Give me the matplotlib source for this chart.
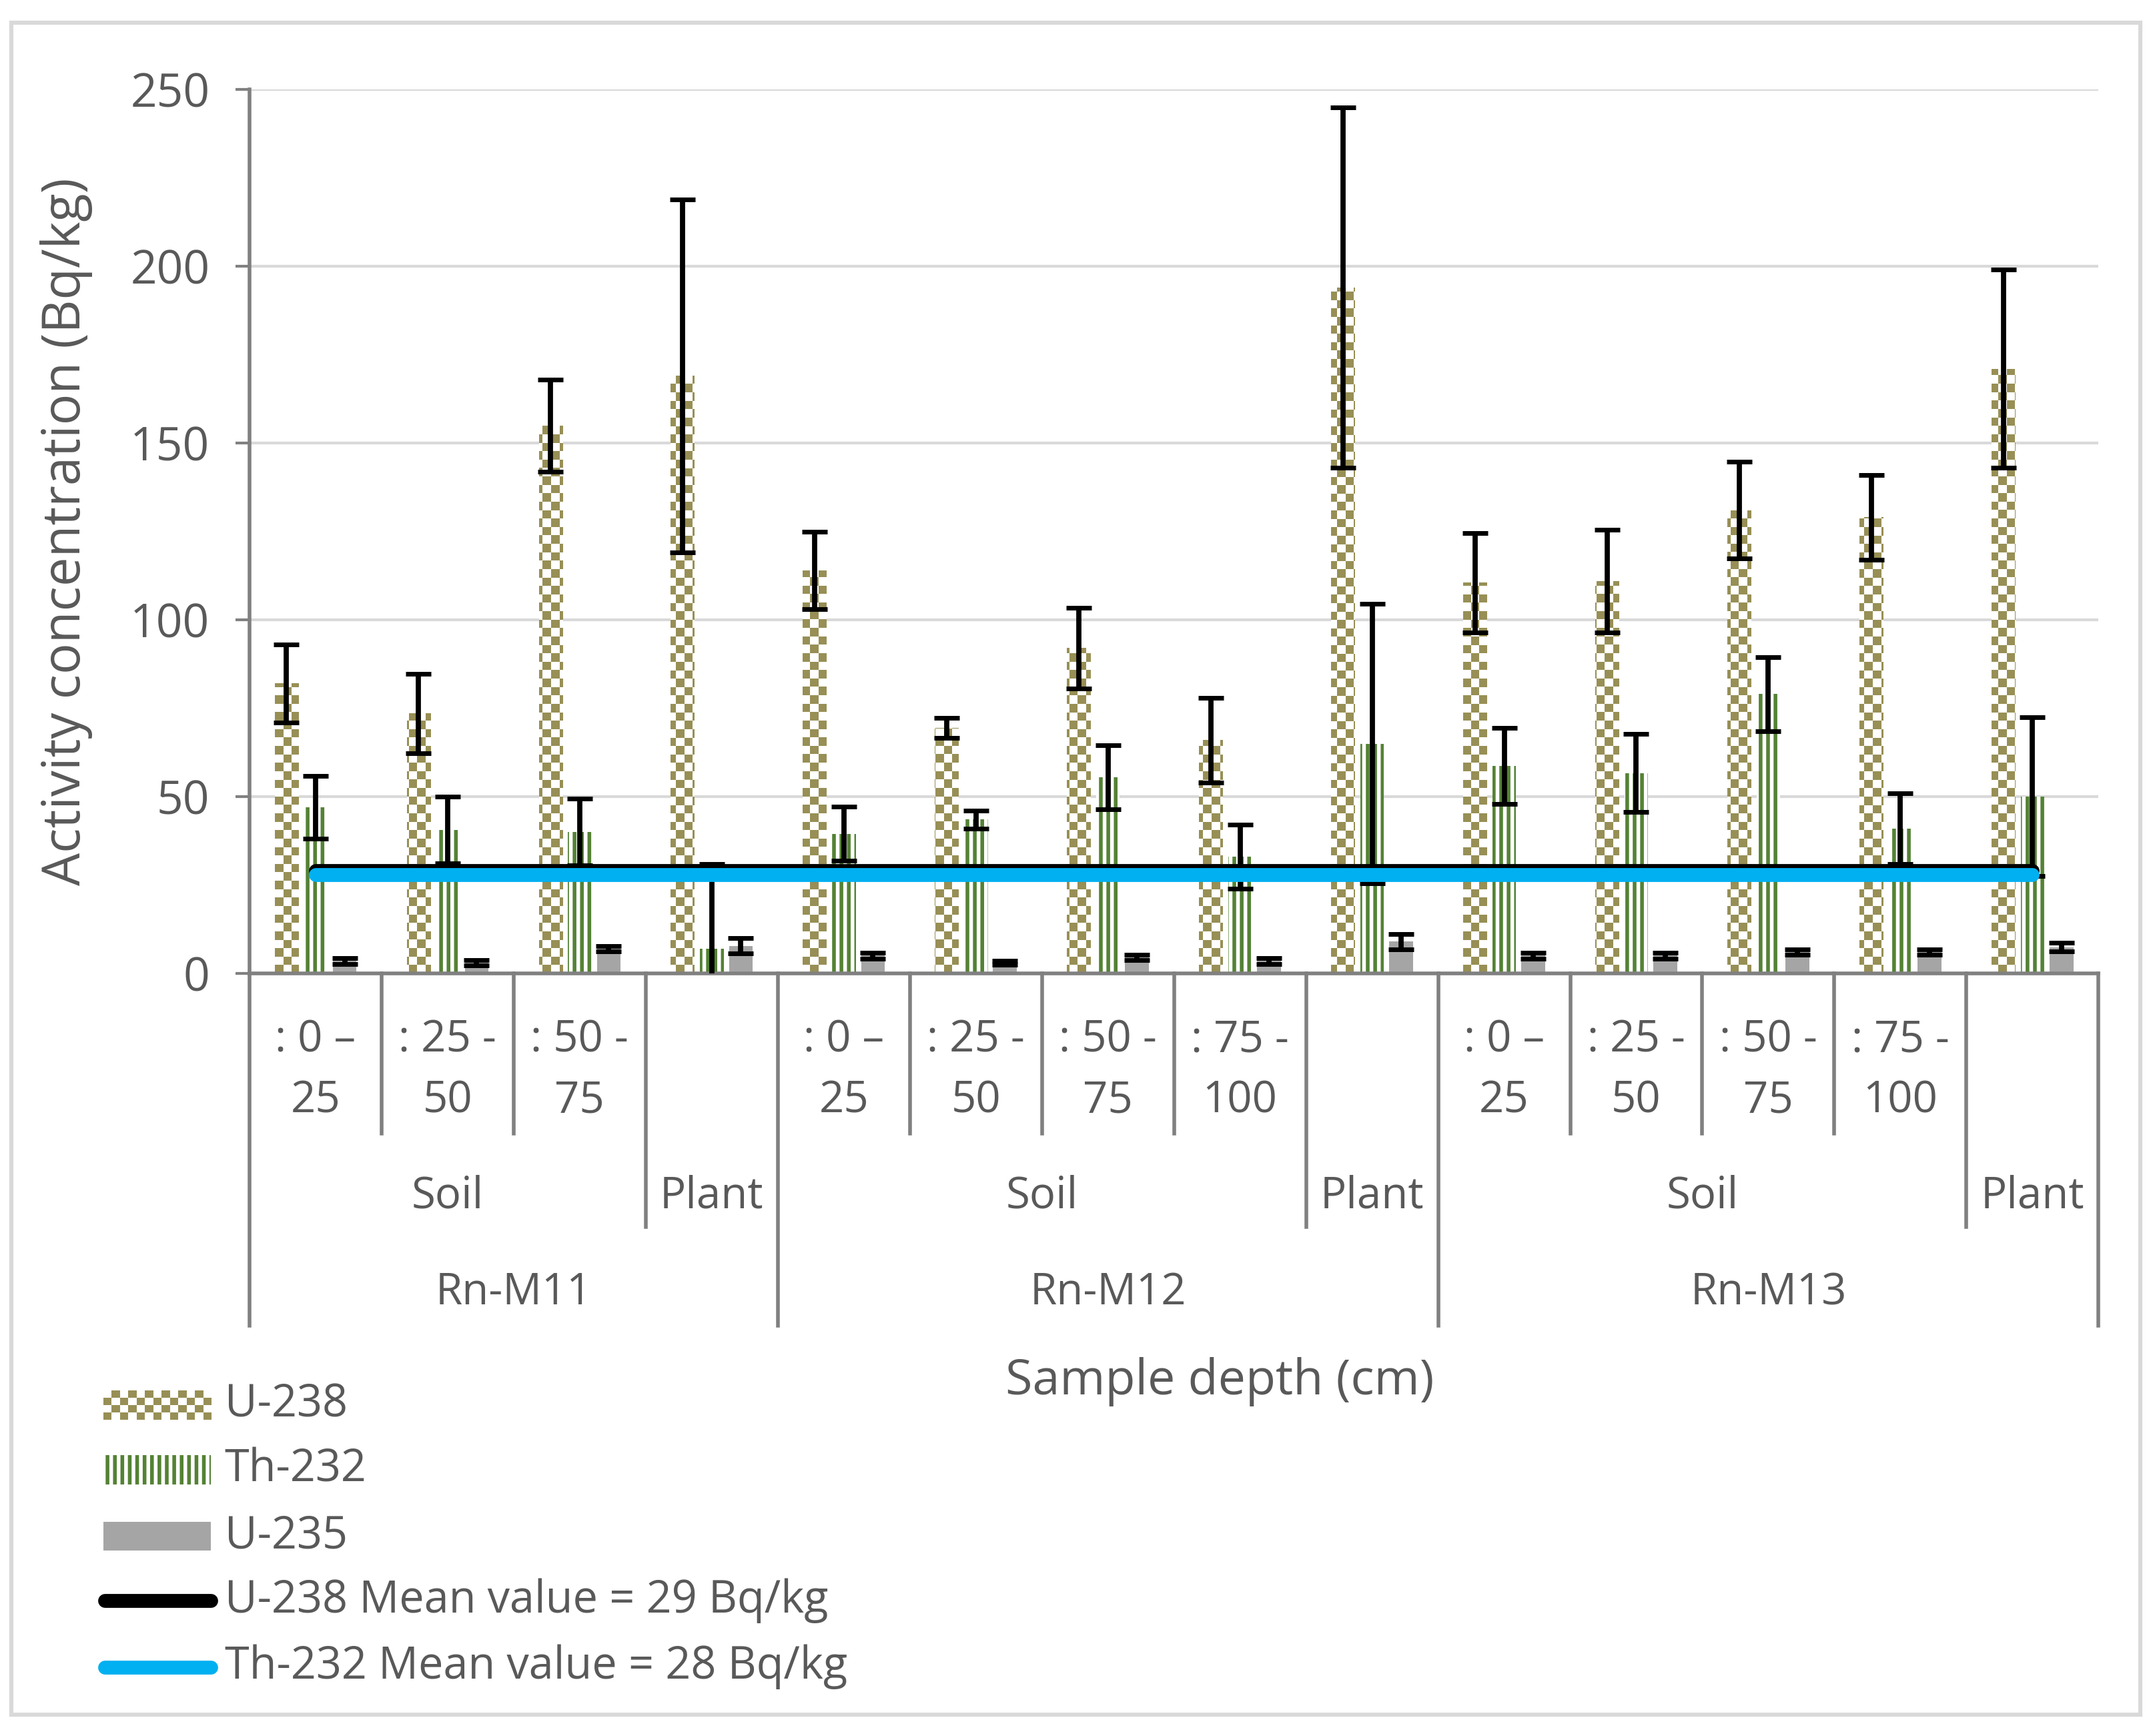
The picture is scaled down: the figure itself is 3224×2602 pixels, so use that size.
import numpy as np
import matplotlib.pyplot as plt
from matplotlib.colors import ListedColormap
from matplotlib.patches import Rectangle
from matplotlib.lines import Line2D
import matplotlib.transforms as mtransforms

plt.rcParams['font.family'] = ['Open Sans', 'DejaVu Sans']
plt.rcParams['hatch.linewidth'] = 2.0

# categories (three-level x axis)
sites = ["Rn-M11"] * 4 + ["Rn-M12"] * 5 + ["Rn-M13"] * 5
kinds = (["Soil"] * 3 + ["Plant"] + ["Soil"] * 4 + ["Plant"]
         + ["Soil"] * 4 + ["Plant"])
depths = [": 0 –\n25", ": 25 -\n50", ": 50 -\n75", "",
          ": 0 –\n25", ": 25 -\n50", ": 50 -\n75", ": 75 -\n100", "",
          ": 0 –\n25", ": 25 -\n50", ": 50 -\n75", ": 75 -\n100", ""]

# activity concentrations (Bq/kg) and errors
u238 = [82, 73.5, 155, 169, 114, 69.5, 92, 66, 194, 110.5, 111, 131, 129, 171]
u238_err = [11, 11.3, 13, 50, 11, 2.8, 11.5, 12, 51, 14, 14.5, 13.7, 12, 28]
th232 = [47, 40.6, 40, 7, 39.5, 43.5, 55.5, 33, 65, 58.7, 56.7, 79, 41, 50]
th232_err = [8.8, 9.4, 9.5, 24, 7.6, 2.5, 9, 9, 39.5, 10.7, 11, 10.5, 10, 22.5]
u235 = [3.5, 3, 7, 7.8, 5, 3, 4.5, 3.5, 9, 5, 5, 6, 6, 7.4]
u235_err = [0.8, 0.7, 0.8, 2.2, 0.8, 0.5, 0.8, 0.8, 2.2, 0.8, 0.8, 0.8, 0.8, 1.2]

u238_mean = 29
th232_mean = 28

OLIVE = "#978F55"
GREEN = "#548235"
GRAY = "#A5A5A5"
BLUE = "#00B0F0"
TXT = "#595959"
AXC = "#808080"

fig = plt.figure(figsize=(16.12, 13.01), dpi=200)
ax = fig.add_axes([0.116, 0.4393, 0.8596, 0.5091])

n = len(u238)
x = np.arange(n)
w = 0.18
off = 0.22

ax.set_xlim(-0.5, n - 0.5)
ax.set_ylim(0, 250)

# U-238 bars: checkerboard texture clipped to each bar
bars_u = ax.bar(x - off, u238, w, color="none", edgecolor="none", zorder=2)
ax_w_px = 0.8596 * 16.12 * 200
ax_h_px = 0.5091 * 13.01 * 200
cell = 12.5
nx, ny = int(ax_w_px / cell), int(ax_h_px / cell)
ii, jj = np.indices((ny, nx))
checker = (ii + jj) % 2
cmap = ListedColormap(["white", OLIVE])
for b in bars_u:
    im = ax.imshow(checker, cmap=cmap, extent=[-0.5, n - 0.5, 0, 250],
                   aspect="auto", interpolation="nearest", zorder=2,
                   origin="lower")
    im.set_clip_path(b)

ax.bar(x, th232, w, color="white", edgecolor=GREEN, hatch="|||",
       linewidth=0, zorder=2)
ax.bar(x + off, u235, w, color=GRAY, edgecolor="none", zorder=2)

ekw = dict(fmt="none", ecolor="black", elinewidth=2.8, capsize=7,
           capthick=2.5, zorder=3)
ax.errorbar(x - off, u238, yerr=u238_err, **ekw)
ax.errorbar(x, th232, yerr=th232_err, **ekw)
ax.errorbar(x + off, u235, yerr=u235_err, **ekw)

ax.plot([x[0], x[-1]], [u238_mean] * 2, color="black", lw=7.5,
        solid_capstyle="round", zorder=4)
ax.plot([x[0], x[-1]], [th232_mean] * 2, color=BLUE, lw=7.5,
        solid_capstyle="round", zorder=5)

ax.set_xlim(-0.5, n - 0.5)
ax.set_ylim(0, 250)

# axes styling
ax.set_yticks(range(0, 251, 50))
ax.yaxis.grid(True, color="#D9D9D9", lw=1.5)
ax.set_axisbelow(True)
for s in ["top", "right"]:
    ax.spines[s].set_visible(False)
for s in ["left", "bottom"]:
    ax.spines[s].set_color(AXC)
    ax.spines[s].set_linewidth(2)
ax.tick_params(axis="y", colors=AXC, labelcolor=TXT, labelsize=25,
               length=7.5, width=1.5, pad=14)
ax.set_xticks([])
ax.set_ylabel("Activity concentration (Bq/kg)", fontsize=28, color=TXT,
              labelpad=20)

# multi-level category axis
trans = mtransforms.blended_transform_factory(ax.transData, ax.transAxes)
lvl = [-0.181, -0.287, -0.399]
edges = [-0.5] + [i + 0.5 for i in range(n - 1)] + [n - 0.5]
for k, e in enumerate(edges):
    if k == 0 or k == n:
        d = lvl[2]
    elif sites[k - 1] != sites[k]:
        d = lvl[2]
    elif kinds[k - 1] != kinds[k]:
        d = lvl[1]
    else:
        d = lvl[0]
    ax.plot([e, e], [0, d], color=AXC, lw=2, transform=trans, clip_on=False)

for i, lab in enumerate(depths):
    if lab:
        ax.text(i, -0.110, lab, transform=trans, ha="center", va="center",
                fontsize=23.5, color=TXT, linespacing=1.5)


def runs(seq):
    out, start = [], 0
    for i in range(1, len(seq) + 1):
        if i == len(seq) or seq[i] != seq[start] or (
                seq is kinds and sites[i] != sites[start]):
            out.append((seq[start], start, i - 1))
            start = i
    return out


for lab, a, b in runs(kinds):
    ax.text((a + b) / 2, -0.2527, lab, transform=trans, ha="center",
            va="center", fontsize=23.5, color=TXT)
for lab, a, b in runs(sites):
    ax.text((a + b) / 2, -0.362, lab, transform=trans, ha="center",
            va="center", fontsize=23.5, color=TXT)

fig.text(0.567, 1 - 1002 / 1259, "Sample depth (cm)", ha="center",
         va="center", fontsize=26.5, color=TXT)

# legend, drawn by hand to keep the checkerboard swatch
ys = [1 - v / 1259 for v in (1019, 1066, 1114, 1161, 1209)]
sx0, sx1 = 75 / 1560, 153 / 1560
sh = 21 / 1259
lax = fig.add_axes([sx0, ys[0] - sh / 2, sx1 - sx0, sh])
lax.imshow(np.indices((4, 13)).sum(axis=0) % 2, cmap=cmap,
           aspect="auto", interpolation="nearest")
lax.set_axis_off()
fig.add_artist(Rectangle((sx0, ys[1] - sh / 2), sx1 - sx0, sh,
                         transform=fig.transFigure, facecolor="white",
                         edgecolor=GREEN, hatch="|||", linewidth=0))
fig.add_artist(Rectangle((sx0, ys[2] - sh / 2), sx1 - sx0, sh,
                         transform=fig.transFigure, facecolor=GRAY,
                         edgecolor="none"))
for yy, c in ((ys[3], "black"), (ys[4], BLUE)):
    fig.add_artist(Line2D([76 / 1560, 153 / 1560], [yy, yy], color=c,
                          lw=7.5, solid_capstyle="round",
                          transform=fig.transFigure))
labels = ["U-238", "Th-232", "U-235",
          "U-238 Mean value = 29 Bq/kg", "Th-232 Mean value = 28 Bq/kg"]
for yy, lab in zip(ys, labels):
    fig.text(163 / 1560, yy, lab, ha="left", va="center", fontsize=24,
             color=TXT)

# outer chart border
fig.add_artist(Rectangle((0.0053, 0.0123), 0.9897, 0.9747,
                         transform=fig.transFigure, facecolor="none",
                         edgecolor="#D9D9D9", linewidth=2.2))

fig.savefig("out.png", dpi=200)
